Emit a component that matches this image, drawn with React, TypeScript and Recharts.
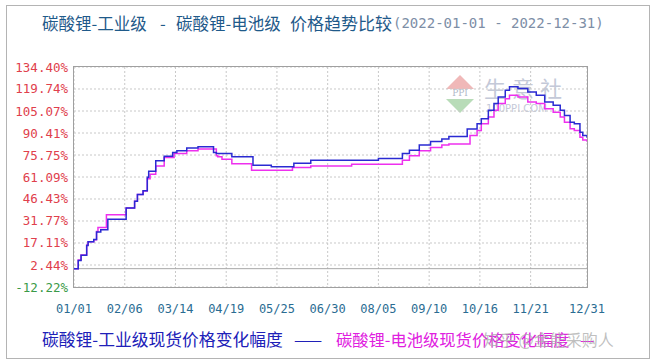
import React from "react";
import {
  LineChart,
  Line,
  XAxis,
  YAxis,
  CartesianGrid,
  ReferenceLine,
} from "recharts";

const TITLE_PARTS = ["碳酸锂-工业级", "-", "碳酸锂-电池级", "价格趋势比较"];
const DATE_RANGE = "(2022-01-01 - 2022-12-31)";
const SERIES_NAMES = ["碳酸锂-工业级现货价格变化幅度", "碳酸锂-电池级现货价格变化幅度"];

// day of year (0 = 01/01)
const xTicks = [0, 36, 72, 108, 144, 180, 216, 252, 288, 324, 364];
const xLabels = ["01/01", "02/06", "03/14", "04/19", "05/25", "06/30", "08/05", "09/10", "10/16", "11/21", "12/31"];
const yTicks = [-12.22, 2.44, 17.11, 31.77, 46.43, 61.09, 75.75, 90.41, 105.07, 119.74, 134.4];

// 工业级
const industrialDays = [0, 3, 5, 9, 10, 14, 16, 19, 24, 37, 43, 45, 49, 52, 53, 58, 64, 70, 73, 80, 88, 99, 101, 112, 127, 140, 156, 168, 216, 233, 238, 245, 253, 261, 266, 279, 286, 289, 294, 298, 301, 306, 309, 315, 322, 328, 334, 340, 345, 348, 352, 355, 359, 361, 364];
const industrialValues = [0, 5.5, 9, 15.5, 18, 19.5, 24.5, 26, 33, 40.5, 45, 49.5, 52, 61, 65, 72, 75, 77.5, 78.6, 80.4, 81.3, 77.4, 76.8, 74.6, 69, 68, 70.3, 72.3, 73.4, 76.8, 79, 82.4, 84.8, 86.4, 88, 93, 96.5, 99.9, 105.5, 110, 114.4, 118.9, 121.2, 120.1, 117.8, 115.6, 111.1, 108.9, 105.5, 102.1, 97.6, 96.5, 90.9, 88.7, 87.3];

// 电池级
const batteryDays = [0, 3, 5, 9, 10, 14, 16, 17, 23, 37, 43, 45, 49, 52, 54, 58, 64, 71, 80, 88, 101, 102, 105, 112, 126, 155, 168, 197, 233, 238, 245, 253, 261, 266, 281, 286, 289, 294, 298, 301, 306, 309, 315, 322, 328, 334, 340, 345, 348, 352, 355, 359, 361, 364];
const batteryValues = [0, 5.7, 9.1, 15.8, 18, 19.2, 24.8, 27.5, 36, 40.5, 45, 49.4, 51.7, 60, 63, 68.5, 74.1, 76.8, 78.6, 79.7, 75.2, 74.6, 73, 70, 65.6, 67.5, 68.5, 69.6, 72.3, 75.2, 78.6, 80.8, 82.4, 83.1, 88.7, 92, 96.5, 101, 105.5, 110, 113.3, 115.6, 114.4, 111.1, 110, 106.6, 104.3, 101, 97.6, 93.2, 92, 87.5, 85.7, 84.5];

const industrialData = industrialDays.map((d, i) => ({ day: d, value: industrialValues[i] }));
const batteryData = batteryDays.map((d, i) => ({ day: d, value: batteryValues[i] }));

const BLUE = "#2a2ad2";
const MAGENTA = "#ee30ee";

const YTick = (props: any) => {
  const v = props.payload.value;
  return (
    <text
      x={68}
      y={props.y}
      textAnchor="end"
      dominantBaseline="central"
      fontFamily="DejaVu Sans Mono"
      fontSize={12.5}
      fill={v < 0 ? "#3a9a48" : "#e0404c"}
    >
      {v.toFixed(2) + "%"}
    </text>
  );
};

const XTick = (props: any) => {
  const i = xTicks.indexOf(props.payload.value);
  return (
    <text
      x={props.x}
      y={309}
      textAnchor="middle"
      dominantBaseline="central"
      fontFamily="DejaVu Sans Mono"
      fontSize={12}
      fill="#2a6c92"
    >
      {xLabels[i]}
    </text>
  );
};

const abs = (left: number, top: number, extra: React.CSSProperties = {}): React.CSSProperties => ({
  position: "absolute",
  left,
  top,
  whiteSpace: "pre",
  lineHeight: "22px",
  ...extra,
});

export default function App() {
  return (
    <div
      style={{
        position: "absolute",
        left: 0,
        top: 0,
        width: 655,
        height: 361,
        background: "#fff",
        fontFamily: "'Noto Sans CJK SC', sans-serif",
      }}
    >
      {/* outer frame */}
      <div
        style={{
          position: "absolute",
          left: 6,
          top: 5,
          width: 642,
          height: 352,
          border: "1px solid #b4b4b4",
        }}
      />

      {/* title */}
      <div style={abs(42, 12, { fontSize: 16.5, color: "#1f5a8a" })}>{TITLE_PARTS[0]}</div>
      <div style={abs(160, 12, { fontSize: 16.5, color: "#1f5a8a" })}>{TITLE_PARTS[1]}</div>
      <div style={abs(176, 12, { fontSize: 16.5, color: "#1f5a8a" })}>{TITLE_PARTS[2]}</div>
      <div style={abs(290, 12, { fontSize: 17, color: "#1f5a8a" })}>{TITLE_PARTS[3]}</div>
      <div style={abs(393, 12, { fontSize: 14, fontFamily: "DejaVu Sans Mono", color: "#7d8ea6" })}>
        {DATE_RANGE}
      </div>

      {/* 生意社 logo watermark */}
      <svg style={{ position: "absolute", left: 446, top: 72 }} width={160} height={50}>
        <polygon points="14,3 28,17 0,17" fill="#f0b8b8" />
        <polygon points="0,27 28,27 14,41" fill="#b8dcb8" />
        <text x={14} y={24} textAnchor="middle" fontSize={9} fill="#b0b8c8" fontFamily="DejaVu Serif">
          PPI
        </text>
        <text x={38} y={25} fontSize={22} fill="#c4c9d8" letterSpacing={6}>
          生意社
        </text>
        <text x={40} y={40} fontSize={10} fill="#c4c9d8" fontFamily="DejaVu Sans">
          100PPI.COM
        </text>
      </svg>

      <div style={{ position: "absolute", left: 0, top: 0 }}>
        <LineChart width={655} height={361} margin={{ top: 67, right: 68, bottom: 0, left: 0 }}>
          <CartesianGrid strokeDasharray="2 2" stroke="#c8c8c8" />
          <XAxis
            type="number"
            dataKey="day"
            domain={[0, 364]}
            ticks={xTicks}
            interval={0}
            height={74}
            axisLine={false}
            tickLine={false}
            tick={XTick}
          />
          <YAxis
            type="number"
            domain={[-12.22, 134.4]}
            ticks={yTicks}
            interval={0}
            width={74}
            axisLine={false}
            tickLine={false}
            tick={YTick}
          />
          <ReferenceLine y={0} stroke="#a8a8a8" />
          <Line
            data={batteryData}
            dataKey="value"
            type="stepAfter"
            stroke={MAGENTA}
            strokeWidth={1.5}
            dot={false}
            isAnimationActive={false}
          />
          <Line
            data={industrialData}
            dataKey="value"
            type="stepAfter"
            stroke={BLUE}
            strokeWidth={1.5}
            dot={false}
            isAnimationActive={false}
          />
        </LineChart>
      </div>

      {/* plot border */}
      <div
        style={{
          position: "absolute",
          left: 73,
          top: 66,
          width: 513,
          height: 220,
          border: "1px solid #a0a0a0",
          pointerEvents: "none",
        }}
      />

      {/* legend */}
      <div style={abs(42, 328, { fontSize: 16.8, color: "#2020b8" })}>{SERIES_NAMES[0]}</div>
      <div style={abs(294, 328, { fontSize: 16.8, color: "#2020b8" })}>{"——"}</div>
      <div style={abs(336, 328, { fontSize: 16.3, color: "#e020e0" })}>{SERIES_NAMES[1]}</div>
      <div style={abs(580, 328, { fontSize: 16.3, color: "#e020e0" })}>{"—"}</div>

      <div style={abs(483, 328, { fontSize: 16, color: "rgba(170,170,170,0.75)" })}>
        知乎 @金能采购人
      </div>
    </div>
  );
}
